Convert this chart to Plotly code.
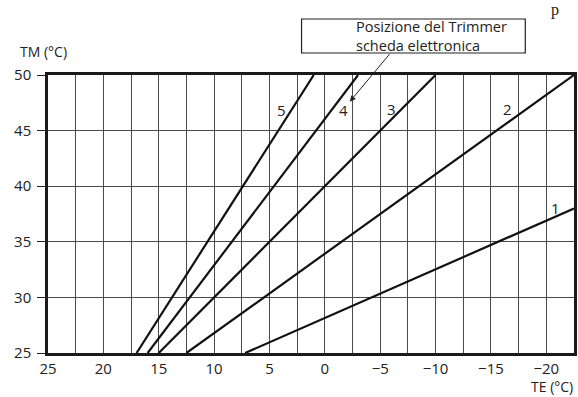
import plotly.graph_objects as go

# ---------------- data ----------------
curve_names = ["1", "2", "3", "4", "5"]
curve_te = [
    [7.2, -22.5],
    [12.5, -22.5],
    [15.0, -10.0],
    [16.0, -3.0],
    [17.0, 1.0],
]
curve_tm = [
    [25, 38],
    [25, 50],
    [25, 50],
    [25, 50],
    [25, 50],
]
label_te = [-20.8, -16.5, -6.0, -1.7, 3.9]
label_tm = [38.0, 46.9, 46.9, 46.85, 46.85]

x_tick_vals = [25, 20, 15, 10, 5, 0, -5, -10, -15, -20]
x_tick_text = ["25", "20", "15", "10", "5", "0", "\u22125", "\u221210", "\u221215", "\u221220"]
y_tick_vals = [25, 30, 35, 40, 45, 50]
y_tick_text = ["25", "30", "35", "40", "45", "50"]

x_title = "TE (°C)"
y_title = "TM (°C)"
box_text = "Posizione del Trimmer<br>scheda elettronica"

# ---------------- figure ----------------
W, H = 578, 397
L, R, T, B = 48, 1, 75, 44
PW, PH = W - L - R, H - T - B


def px(xp):
    return (xp - L) / PW


def py(yp):
    return (H - B - yp) / PH


FONT = "Open Sans"
fig = go.Figure()

for name, te, tm in zip(curve_names, curve_te, curve_tm):
    fig.add_trace(go.Scatter(
        x=te, y=tm, mode="lines", name=name,
        line=dict(color="#111", width=2.2), showlegend=False,
        hoverinfo="skip",
    ))

for name, xt, yt in zip(curve_names, label_te, label_tm):
    fig.add_annotation(x=xt, y=yt, text=name, showarrow=False,
                       font=dict(family=FONT, size=15, color="#222"))

grid_c = "#4a4a4a"
fig.update_xaxes(
    range=[25, -22.5], tickvals=x_tick_vals, ticktext=x_tick_text,
    showgrid=True, gridcolor=grid_c, gridwidth=1,
    minor=dict(dtick=2.5, tick0=0, showgrid=True, gridcolor=grid_c, gridwidth=1),
    showline=True, mirror=True, linecolor="#1a1a1a", linewidth=2.5,
    zeroline=False, ticks="",
    tickfont=dict(family=FONT, size=15, color="#222"),
)
fig.update_yaxes(
    range=[25, 50], tickvals=y_tick_vals, ticktext=y_tick_text,
    showgrid=True, gridcolor=grid_c, gridwidth=1,
    showline=True, mirror=True, linecolor="#1a1a1a", linewidth=2.5,
    zeroline=False, ticks="outside", ticklen=8, tickcolor="#222", tickwidth=1,
    ticklabelstandoff=3,
    tickfont=dict(family=FONT, size=15, color="#222"),
)

# axis titles
fig.add_annotation(xref="paper", yref="paper", x=px(18), y=py(51),
                   xanchor="left", yanchor="middle", text=y_title, showarrow=False,
                   font=dict(family=FONT, size=14, color="#222"))
fig.add_annotation(xref="paper", yref="paper", x=px(577), y=py(386),
                   xanchor="right", yanchor="middle", text=x_title, showarrow=False,
                   borderpad=0,
                   font=dict(family=FONT, size=14, color="#222"))

# legend box for trimmer
fig.add_shape(type="rect", xref="paper", yref="paper",
              x0=px(303), x1=px(528), y0=py(19), y1=py(53),
              line=dict(color="#222", width=1.2), fillcolor="white")
fig.add_annotation(xref="paper", yref="paper", x=px(356), y=py(36),
                   xanchor="left", yanchor="middle", align="left",
                   text=box_text, showarrow=False,
                   font=dict(family=FONT, size=14.5, color="#222"))
# arrow pointing at curve 4
fig.add_annotation(x=-2.25, y=47.6, text="", showarrow=True,
                   ax=41, ay=-49, arrowhead=2, arrowsize=1.2, arrowwidth=1,
                   arrowcolor="#222")

# title fragment at top right
fig.add_annotation(xref="paper", yref="paper", x=px(558), y=py(0),
                   xanchor="center", yanchor="top", text="p", showarrow=False,
                   borderpad=0,
                   font=dict(family="Liberation Serif", size=16, color="#222"))

fig.update_layout(
    width=W, height=H,
    margin=dict(l=L, r=R, t=T, b=B),
    plot_bgcolor="white", paper_bgcolor="white",
    showlegend=False,
)

fig.write_html(
    "out.html",
    config={"displayModeBar": False},
    post_script="document.body.style.margin='0';document.body.style.overflow='hidden';",
)
